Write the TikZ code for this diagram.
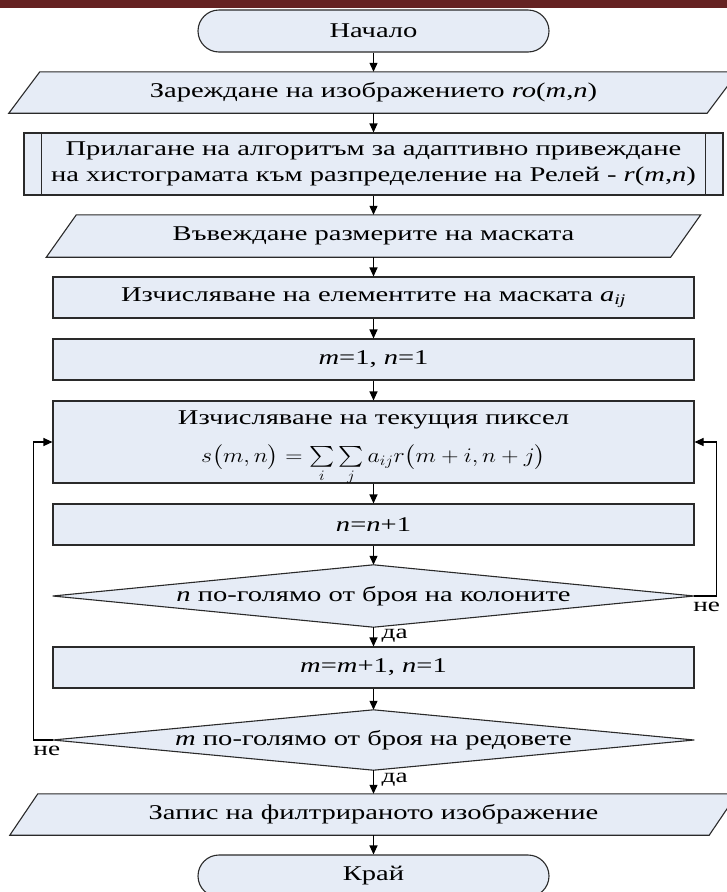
\documentclass[tikz,border=0pt]{standalone}
\usepackage{amsmath}
\usepackage{graphicx}
\usepackage{fontspec}
\setmainfont{Liberation Serif}[FakeStretch=1.36]
\usetikzlibrary{shapes.misc,arrows.meta,backgrounds}
\definecolor{boxfill}{HTML}{E6ECF6}
\definecolor{edge}{HTML}{2A2A2A}
\definecolor{topbar}{HTML}{652222}
\begin{document}
\begin{tikzpicture}[x=1pt,y=-1pt,
  every node/.style={font=\fontsize{21}{26}\selectfont},
  shp/.style={fill=boxfill,draw=edge,line width=1.1pt},
  procbox/.style={shp,rectangle,minimum width=641pt,inner sep=0pt,align=center},
  holder/.style={rectangle,inner sep=0pt,align=center},
  term/.style={shp,rounded rectangle,minimum width=351pt,minimum height=42pt,inner sep=0pt},
  arr/.style={-{Triangle[length=9pt,width=8pt]},line width=1.1pt,draw=black},
  lbl/.style={inner sep=0pt,font=\fontsize{20}{22}\selectfont}
]
\useasboundingbox (0,0) rectangle (727,892);
\fill[topbar] (0,0) rectangle (727,8);

\node[term] (start) at (373.5,31) {Начало};
\node[holder,minimum width=729pt,minimum height=41pt] (p1) at (373.5,92.5)
  {Зареждане на изображението \textit{ro}(\textit{m},\textit{n})};
\node[procbox,minimum width=699pt,minimum height=62pt] (pre) at (373.5,164)
  {Прилагане на алгоритъм за адаптивно привеждане\\на хистограмата към разпределение на Релей - \textit{r}(\textit{m},\textit{n})};
\node[holder,minimum width=654pt,minimum height=42pt] (p2) at (373.5,236)
  {Въвеждане размерите на маската};
\node[procbox,minimum height=41pt] (ra) at (373.5,297.5)
  {Изчисляване на елементите на маската \textit{a}\textsubscript{\textit{ij}}};
\node[procbox,minimum height=41pt] (m1) at (373.5,359.5)
  {\textit{m}=1, \textit{n}=1};
\node[procbox,minimum height=82pt] (big) at (373.5,442) {};
\node[holder,anchor=base] (bigt) at (373.5,424) {Изчисляване на текущия пиксел};
\node[holder,anchor=base] (bigf) at (373.5,462)
  {\scalebox{1.15}[1]{$s\bigl(m,n\bigr)=\sum\limits_i\sum\limits_j a_{ij}r\bigl(m+i,n+j\bigr)$}};
\node[procbox,minimum height=41pt] (nn) at (373.5,524.5)
  {\textit{n}=\textit{n}+1};
\node[holder,minimum width=641pt,minimum height=62pt] (d1) at (373.5,596)
  {\textit{n} по-голямо от броя на колоните};
\node[procbox,minimum height=41pt] (mm) at (373.5,667.5)
  {\textit{m}=\textit{m}+1, \textit{n}=1};
\node[holder,minimum width=641pt,minimum height=60pt] (d2) at (373.5,740)
  {\textit{m} по-голямо от броя на редовете};
\node[holder,minimum width=727pt,minimum height=41pt] (p3) at (373.5,814.5)
  {Запис на филтрираното изображение};
\node[term] (end) at (373.5,876) {Край};

\begin{scope}[on background layer]
  \draw[shp] (p1.south west) -- ([xshift=-31pt]p1.south east) -- (p1.north east)
     -- ([xshift=31pt]p1.north west) -- cycle;
  \draw[shp] (p2.south west) -- ([xshift=-30pt]p2.south east) -- (p2.north east)
     -- ([xshift=30pt]p2.north west) -- cycle;
  \draw[shp] (p3.south west) -- ([xshift=-28pt]p3.south east) -- (p3.north east)
     -- ([xshift=28pt]p3.north west) -- cycle;
  \draw[shp] (d1.north) -- (d1.east) -- (d1.south) -- (d1.west) -- cycle;
  \draw[shp] (d2.north) -- (d2.east) -- (d2.south) -- (d2.west) -- cycle;
\end{scope}
\draw[edge,line width=1.1pt] ([xshift=18pt]pre.north west) -- ([xshift=18pt]pre.south west);
\draw[edge,line width=1.1pt] ([xshift=-18pt]pre.north east) -- ([xshift=-18pt]pre.south east);

\draw[arr] (start.south) -- (p1.north);
\draw[arr] (p1.south) -- (pre.north);
\draw[arr] (pre.south) -- (p2.north);
\draw[arr] (p2.south) -- (ra.north);
\draw[arr] (ra.south) -- (m1.north);
\draw[arr] (m1.south) -- (big.north);
\draw[arr] (big.south) -- (nn.north);
\draw[arr] (nn.south) -- (d1.north);
\draw[arr] (d1.south) -- (mm.north);
\draw[arr] (mm.south) -- (d2.north);
\draw[arr] (d2.south) -- (p3.north);
\draw[arr] (p3.south) -- (end.north);
\draw[arr] (d1.east) -- ++(22,0) |- (big.east);
\draw[arr] (d2.west) -- ++(-19,0) |- (big.west);

\node[lbl,anchor=north west] (no1) at ([xshift=-1pt,yshift=-6pt]d1.east) {не};
\node[lbl,anchor=north] (no2) at ([xshift=-6pt,yshift=-6pt]d2.west) {не};
\node[lbl,anchor=west] (yes1) at ([xshift=8pt,yshift=-9pt]d1.south) {да};
\node[lbl,anchor=west] (yes2) at ([xshift=8pt,yshift=-10pt]d2.south) {да};
\end{tikzpicture}
\end{document}
